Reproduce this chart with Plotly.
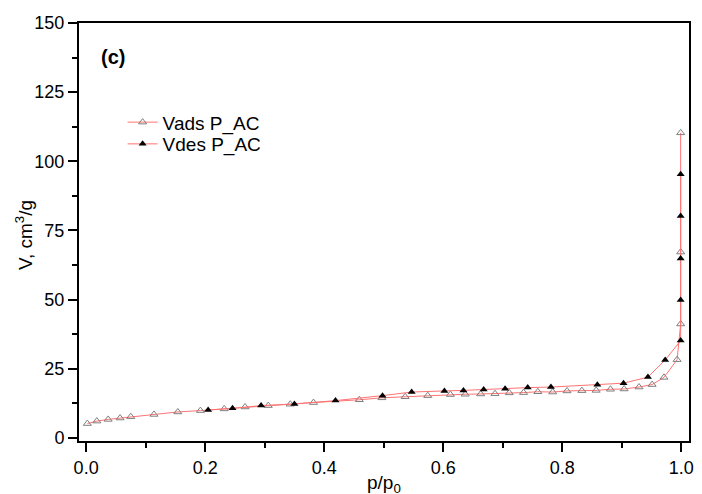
import plotly.graph_objects as go

# Adsorption branch (open triangles)
ads_x = [0.002, 0.018, 0.037, 0.057, 0.075, 0.114, 0.154, 0.192, 0.232, 0.267,
         0.306, 0.343, 0.382, 0.459, 0.497, 0.536, 0.574, 0.612, 0.637, 0.663,
         0.687, 0.711, 0.735, 0.759, 0.784, 0.808, 0.833, 0.857, 0.881, 0.904,
         0.929, 0.951, 0.971, 0.993, 0.999, 0.999, 0.999]
ads_y = [5.2, 6.1, 6.7, 7.2, 7.7, 8.5, 9.4, 9.9, 10.5, 11.2,
         11.7, 12.2, 12.8, 13.8, 14.5, 14.9, 15.3, 15.7, 15.8, 15.9,
         16.0, 16.3, 16.4, 16.7, 16.6, 17.0, 17.1, 17.2, 17.6, 17.7,
         18.4, 19.3, 21.9, 28.3, 41.2, 67.2, 110.3]

# Desorption branch (filled triangles)
des_x = [0.999, 0.999, 0.999, 0.999, 0.999, 0.973, 0.944, 0.903, 0.859, 0.781,
         0.742, 0.704, 0.668, 0.634, 0.602, 0.547, 0.498, 0.419, 0.350, 0.294,
         0.246, 0.205]
des_y = [95.3, 80.2, 64.9, 49.9, 35.2, 28.2, 22.0, 19.8, 19.2, 18.4,
         18.2, 17.8, 17.5, 17.2, 17.0, 16.6, 15.3, 13.5, 12.3, 11.7,
         10.7, 10.1]

x_ticks = [0.0, 0.2, 0.4, 0.6, 0.8, 1.0]
x_tick_labels = ["0.0", "0.2", "0.4", "0.6", "0.8", "1.0"]
y_ticks = [0, 25, 50, 75, 100, 125, 150]

LINE = "#ff7373"
FONT = "Liberation Sans, Arial, sans-serif"

fig = go.Figure()
fig.add_trace(go.Scatter(
    x=ads_x, y=ads_y, name="Vads P_AC", mode="lines+markers", legend="legend",
    line=dict(color=LINE, width=1),
    marker=dict(symbol="triangle-up-open", size=7, color="#7f7f7f", line=dict(width=1, color="#7f7f7f")),
))
fig.add_trace(go.Scatter(
    x=des_x, y=des_y, name="Vdes P_AC", mode="lines+markers", legend="legend2",
    line=dict(color=LINE, width=1),
    marker=dict(symbol="triangle-up", size=7, color="black"),
))

fig.add_annotation(x=0.033, y=0.919, xref="paper", yref="paper", text="<b>(c)</b>",
                   showarrow=False, xanchor="left", yanchor="middle",
                   font=dict(family=FONT, size=20, color="black"))
fig.add_annotation(x=0.5, y=-0.102, xref="paper", yref="paper", text="p/p<sub>0</sub>",
                   showarrow=False, xanchor="center", yanchor="middle",
                   font=dict(family=FONT, size=19, color="black"))
fig.add_annotation(x=-0.09, y=0.493, xref="paper", yref="paper", text="V, cm<sup>3</sup>/g",
                   showarrow=False, xanchor="center", yanchor="middle", textangle=-90,
                   font=dict(family=FONT, size=19, color="black"))

axis_common = dict(
    showline=True, linecolor="black", linewidth=2, mirror=True,
    ticks="outside", ticklen=9, tickwidth=1.5, tickcolor="black",
    showgrid=False, zeroline=False, ticklabeloverflow="allow",
    tickfont=dict(family=FONT, size=18, color="black"),
)

fig.update_xaxes(
    range=[-0.012, 1.013], tickvals=x_ticks, ticktext=x_tick_labels,
    minor=dict(dtick=0.1, tick0=0, ticks="outside", ticklen=5, tickwidth=1.5, tickcolor="black"),
    **axis_common,
)
fig.update_yaxes(
    range=[-1.1, 150], tickvals=y_ticks,
    minor=dict(dtick=12.5, tick0=0, ticks="outside", ticklen=5, tickwidth=1.5, tickcolor="black"),
    **axis_common,
)

legend_common = dict(xanchor="left", yanchor="middle", bgcolor="rgba(0,0,0,0)",
                     font=dict(family=FONT, size=19, color="black"))
fig.update_layout(
    width=702, height=494,
    margin=dict(l=79, r=8, t=23, b=53),
    paper_bgcolor="white", plot_bgcolor="white",
    showlegend=True,
    legend=dict(x=0.0715, y=0.7625, **legend_common),
    legend2=dict(x=0.0715, y=0.7105, **legend_common),
)

fig.write_html("out.html", config={"displayModeBar": False},
               post_script="document.body.style.margin='0';")
